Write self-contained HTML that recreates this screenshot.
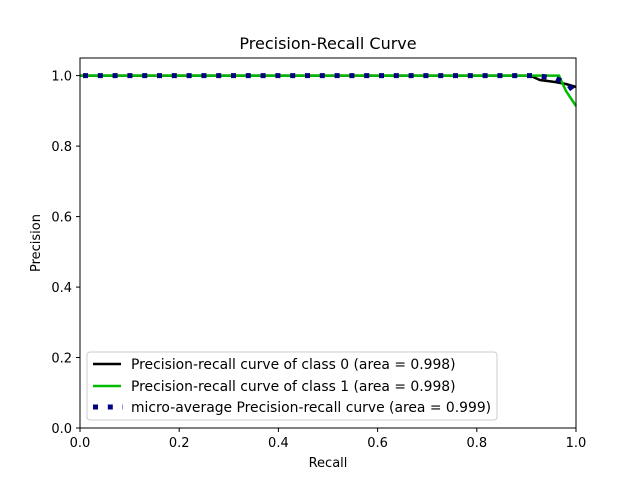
<!DOCTYPE html>
<html><head><style>body{margin:0;background:#fff}svg{display:block}text{font-family:"DejaVu Sans","Liberation Sans",sans-serif;fill:#000}</style></head><body>
<svg width="640" height="480" viewBox="0 0 640 480">
<rect width="640" height="480" fill="#fff"/>
<g font-size="13" text-anchor="middle">
<text x="328" y="49" font-size="16">Precision-Recall Curve</text>
<text x="328" y="467">Recall</text>
<text x="40" y="243" transform="rotate(-90 40 243)">Precision</text>
</g>
<g stroke="#000" stroke-width="1">
<line x1="80" y1="428" x2="80" y2="432"/><line x1="179.2" y1="428" x2="179.2" y2="432"/><line x1="278.4" y1="428" x2="278.4" y2="432"/><line x1="377.6" y1="428" x2="377.6" y2="432"/><line x1="476.8" y1="428" x2="476.8" y2="432"/><line x1="576" y1="428" x2="576" y2="432"/>
<line x1="76" y1="428" x2="80" y2="428"/><line x1="76" y1="357.5" x2="80" y2="357.5"/><line x1="76" y1="287.1" x2="80" y2="287.1"/><line x1="76" y1="216.6" x2="80" y2="216.6"/><line x1="76" y1="146.1" x2="80" y2="146.1"/><line x1="76" y1="75.6" x2="80" y2="75.6"/>
</g>
<g font-size="13" text-anchor="middle">
<text x="80" y="447">0.0</text><text x="179.2" y="447">0.2</text><text x="278.4" y="447">0.4</text><text x="377.6" y="447">0.6</text><text x="476.8" y="447">0.8</text><text x="576" y="447">1.0</text>
</g>
<g font-size="13" text-anchor="end">
<text x="72" y="433">0.0</text><text x="72" y="362.5">0.2</text><text x="72" y="292">0.4</text><text x="72" y="221.5">0.6</text><text x="72" y="151">0.8</text><text x="72" y="80.5">1.0</text>
</g>
<polyline fill="none" stroke="#000" stroke-width="2.5" points="80,75.6 530,75.6 540,80 555,82 566,84 576,87"/>
<polyline fill="none" stroke="#00bb00" stroke-width="2.5" points="80,75.6 559,75.6 566,91 576,106"/>
<polyline fill="none" stroke="#000080" stroke-width="5" stroke-dasharray="5,9.8" stroke-dashoffset="-3" points="80,75.6 535,75.6 555,78 568,84 576,95"/>
<rect x="80" y="58" width="496" height="370" fill="none" stroke="#000" stroke-width="1"/>
<rect x="87" y="352" width="410" height="68" rx="3" fill="#fff" fill-opacity="0.8" stroke="#ccc"/>
<line x1="93" y1="364" x2="121" y2="364" stroke="#000" stroke-width="2.5"/>
<line x1="93" y1="386" x2="121" y2="386" stroke="#00bb00" stroke-width="2.5"/>
<line x1="93" y1="407" x2="123" y2="407" stroke="#000080" stroke-width="5" stroke-dasharray="5,9.8"/>
<g font-size="13.9">
<text x="131" y="369">Precision-recall curve of class 0 (area = 0.998)</text>
<text x="131" y="391">Precision-recall curve of class 1 (area = 0.998)</text>
<text x="131" y="412">micro-average Precision-recall curve (area = 0.999)</text>
</g>
</svg>
</body></html>
